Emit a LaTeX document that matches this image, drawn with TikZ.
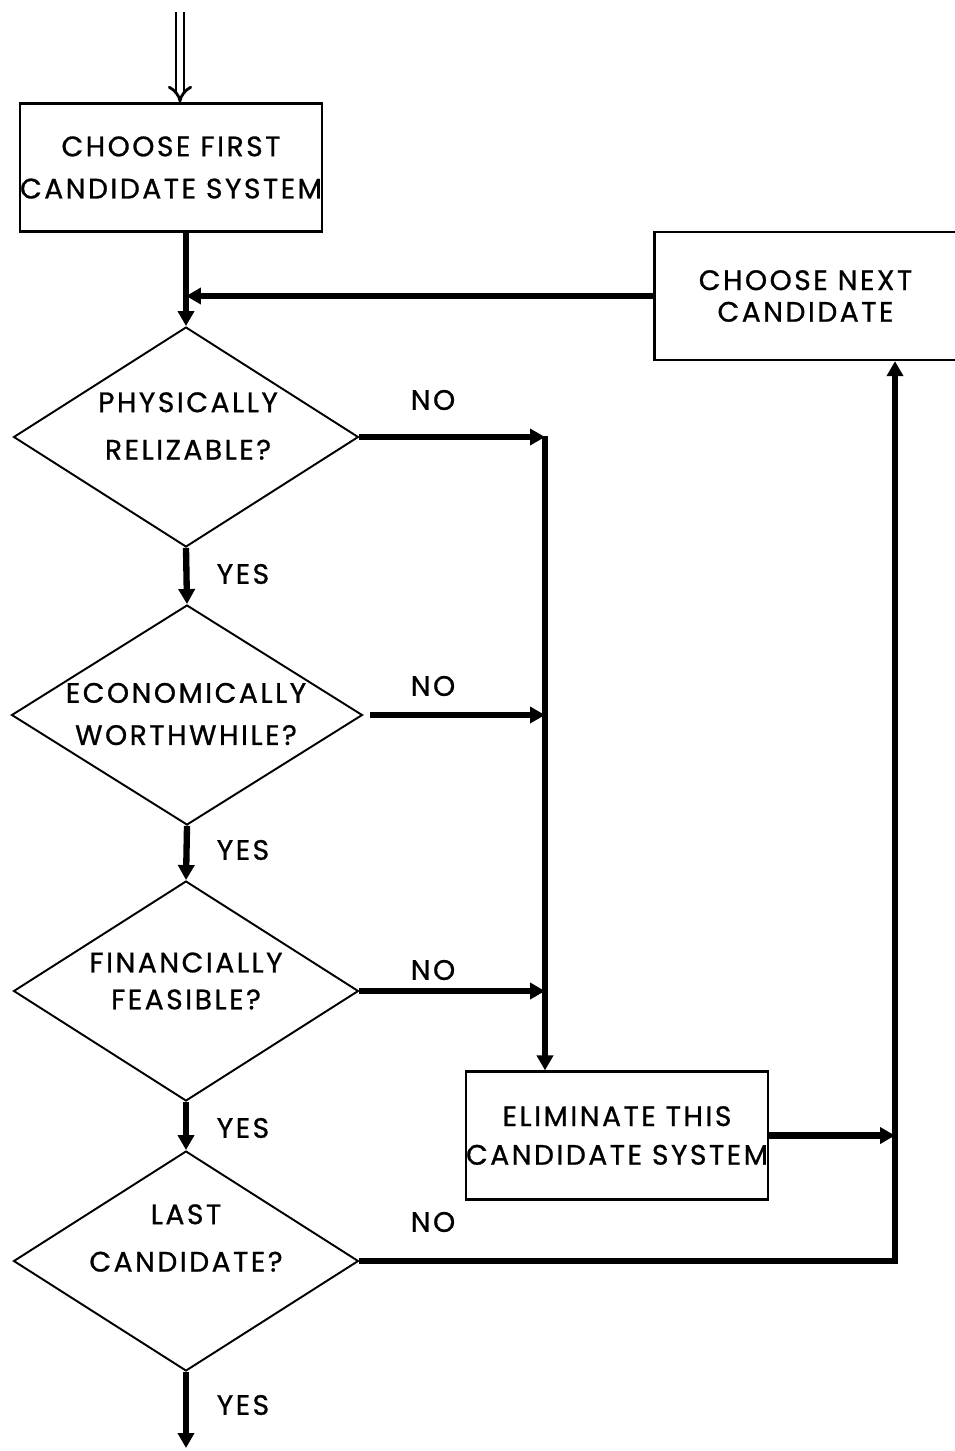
\documentclass[tikz,border=0pt]{standalone}
\usepackage{fontspec}
\setmainfont{Poppins}[LetterSpace=9, FakeBold=0.9]
\usetikzlibrary{arrows.meta,positioning,shapes.geometric}

\begin{document}
\begin{tikzpicture}[x=0.02cm,y=-0.02cm,
    txt/.style={font=\fontsize{16}{24}\selectfont, align=center, inner sep=0pt},
    box/.style={draw, line width=1.3pt, minimum width=6.04cm, minimum height=2.56cm, txt},
    decision/.style={draw, diamond, line width=1.1pt, minimum width=6.9cm, minimum height=4.4cm, inner sep=0pt},
    flow/.style={line width=3.6pt, -{Triangle[length=0.3cm,width=0.32cm]}},
    lbl/.style={font=\fontsize{16}{18}\selectfont, inner sep=0pt}]
    \useasboundingbox (0,0) rectangle (954,1451);
    % boxes
    \node[box] (first) at (171,167.5) {CHOOSE FIRST\\CANDIDATE SYSTEM};
    \node[box] (next) at (805.5,296) {CHOOSE NEXT\\[-6pt]CANDIDATE};
    \node[box] (elim) at (617,1135.5) {ELIMINATE THIS\\[-2pt]CANDIDATE SYSTEM};
    % decisions
    \node[decision] (d1) at (186,437) {};
    \node[decision] (d2) at (187,715) [minimum width=7.02cm] {};
    \node[decision] (d3) at (186,991) {};
    \node[decision] (d4) at (186,1261) {};
    \node[txt] (t1) at (188,426) {PHYSICALLY\\[3pt]RELIZABLE?};
    \node[txt] (t2) at (186,714) {ECONOMICALLY\\WORTHWHILE?};
    \node[txt] (t3) at (186,981) {FINANCIALLY\\[-3pt]FEASIBLE?};
    \node[txt] (t4) at (186,1238) {LAST\\[3pt]CANDIDATE?};
    % labels
    \foreach \y/\n in {400/1,686/2,970/3,1222/4}{
        \node[lbl] (no\n) at (433,\y) {NO};
    }
    \foreach \y/\n in {574/1,850/2,1128/3,1405/4}{
        \node[lbl] (yes\n) at (243,\y) {YES};
    }
    \coordinate (top) at (180,12);
    \coordinate (jn) at (545,436);
    \coordinate (rc) at (895,1262);
    \coordinate (out) at (186,1448);
    % connectors
    \draw[double, line width=1.6pt, double distance=3pt, -{Implies}] (top) -- (top |- first.north);
    \draw[flow] (first.south -| d1.north) -- (d1.north);
    \draw[flow] (next.west) -- (next.west -| d1.north);
    \draw[flow] (d1.east) -- (d1.east -| jn);
    \draw[flow] ([xshift=0.14cm]d2.east) -- (d2.east -| jn);
    \draw[flow] (d3.east) -- (d3.east -| jn);
    \draw[flow] (jn) -- (jn |- elim.north);
    \draw[flow] (d1.south) -- (d2.north);
    \draw[flow] (d2.south) -- (d3.north);
    \draw[flow] (d3.south) -- (d4.north);
    \draw[flow] (d4.south) -- (out);
    \draw[flow] (elim.east) -- (elim.east -| rc);
    \draw[flow] (d4.east) -| (next.south -| rc);
\end{tikzpicture}
\end{document}
